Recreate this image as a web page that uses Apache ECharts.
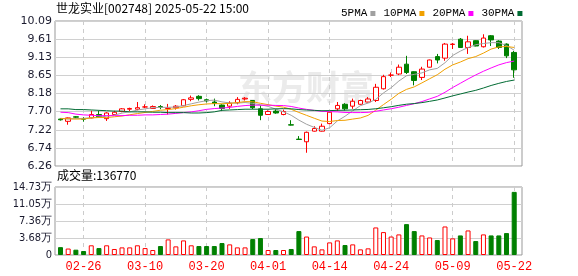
<!DOCTYPE html>
<html><head><meta charset="utf-8">
<script src="https://cdn.jsdelivr.net/npm/echarts@6/dist/echarts.min.js"></script>
<style>html,body{margin:0;padding:0;background:#fff}#c{width:578px;height:276px}</style>
</head><body><div id="c"></div>
<script>
const dates = ['02-21','02-24','02-25','02-26','02-27','02-28','03-03','03-04','03-05','03-06','03-07','03-10','03-11','03-12','03-13','03-14','03-17','03-18','03-19','03-20','03-21','03-24','03-25','03-26','03-27','03-28','03-31','04-01','04-02','04-03','04-07','04-08','04-09','04-10','04-11','04-14','04-15','04-16','04-17','04-18','04-21','04-22','04-23','04-24','04-25','04-28','04-29','04-30','05-06','05-07','05-08','05-09','05-12','05-13','05-14','05-15','05-16','05-19','05-20','05-22'];
const labelDates = ['02-26','03-10','03-20','04-01','04-14','04-24','05-09','05-22'];
const opens  = [7.50,7.44,7.56,7.50,7.53,7.62,7.51,7.62,7.70,7.76,7.76,7.82,7.78,7.83,7.78,7.80,7.85,8.02,8.10,8.01,7.95,7.87,7.84,7.93,8.03,7.99,7.77,7.62,7.71,7.62,7.35,6.97,6.90,7.18,7.18,7.38,7.77,7.89,7.84,7.89,7.95,7.99,8.30,8.66,8.69,8.95,8.75,8.60,8.87,9.15,9.11,9.47,9.61,9.39,9.57,9.41,9.70,9.56,9.48,9.26];
const closes = [7.48,7.53,7.55,7.50,7.62,7.56,7.66,7.68,7.77,7.78,7.80,7.82,7.83,7.81,7.79,7.84,8.01,8.06,8.04,7.98,7.91,7.78,7.92,8.02,8.05,7.80,7.60,7.70,7.66,7.70,7.34,6.96,7.15,7.25,7.31,7.68,7.86,7.77,7.97,7.99,8.03,8.34,8.62,8.66,8.87,8.73,8.52,8.82,9.06,9.06,9.48,9.48,9.39,9.54,9.43,9.64,9.59,9.39,9.17,8.80];
const lows   = [7.46,7.35,7.52,7.43,7.52,7.54,7.45,7.61,7.68,7.71,7.73,7.79,7.77,7.76,7.62,7.75,7.84,7.97,7.99,7.94,7.84,7.71,7.77,7.89,7.99,7.76,7.47,7.61,7.64,7.60,7.33,6.96,6.61,7.17,7.17,7.36,7.71,7.73,7.77,7.88,7.94,7.95,8.28,8.61,8.66,8.69,8.39,8.53,8.86,8.97,9.04,9.35,9.38,9.22,9.42,9.39,9.43,9.35,9.11,8.59];
const highs  = [7.52,7.54,7.58,7.55,7.72,7.72,7.68,7.72,7.79,7.80,7.95,7.89,7.86,7.87,7.90,7.87,8.03,8.12,8.13,8.04,8.04,7.89,7.97,8.08,8.08,8.00,7.86,7.73,7.76,7.75,7.47,7.05,7.17,7.31,7.38,7.69,7.95,7.92,8.04,8.01,8.08,8.43,8.67,8.73,8.94,9.17,8.76,8.88,9.07,9.22,9.51,9.51,9.64,9.70,9.58,9.74,9.72,9.58,9.50,9.30];
const volumes = [17000,14000,11500,8600,21000,15000,21000,13000,16500,16500,21000,15000,10800,19400,33800,18700,31600,21000,19400,19400,19400,25900,23000,16500,16500,34500,36700,10800,10800,10800,13000,51800,40000,18700,12200,27300,31600,21600,23000,12200,14400,59700,49600,40000,44600,66900,51800,42400,38000,32400,61800,36000,42400,53200,30200,44600,42400,42400,47500,136770];
const ma5  = [7.52,7.50,7.51,7.52,7.536,7.552,7.578,7.604,7.658,7.69,7.738,7.77,7.80,7.808,7.81,7.818,7.856,7.902,7.948,7.986,8.00,7.954,7.926,7.922,7.936,7.914,7.878,7.834,7.762,7.692,7.60,7.472,7.362,7.28,7.202,7.27,7.45,7.574,7.718,7.854,7.924,8.02,8.19,8.328,8.504,8.644,8.68,8.72,8.80,8.838,8.988,9.18,9.294,9.39,9.464,9.496,9.518,9.518,9.444,9.318];
const ma10 = [7.51,7.51,7.50,7.50,7.53,7.54,7.54,7.56,7.58,7.613,7.645,7.674,7.702,7.733,7.75,7.778,7.813,7.851,7.878,7.898,7.909,7.905,7.914,7.935,7.961,7.957,7.916,7.88,7.842,7.814,7.757,7.675,7.598,7.521,7.447,7.435,7.461,7.468,7.499,7.528,7.597,7.735,7.882,8.023,8.179,8.284,8.35,8.455,8.564,8.671,8.816,8.93,9.007,9.095,9.151,9.242,9.349,9.406,9.417,9.391];
const ma20 = [7.68,7.67,7.63,7.61,7.60,7.59,7.59,7.59,7.59,7.60,7.60,7.61,7.61,7.62,7.63,7.65,7.67,7.69,7.72,7.756,7.777,7.79,7.808,7.834,7.856,7.868,7.865,7.866,7.86,7.856,7.833,7.79,7.756,7.728,7.704,7.696,7.689,7.674,7.671,7.671,7.677,7.705,7.74,7.772,7.813,7.86,7.906,7.962,8.032,8.10,8.207,8.333,8.445,8.559,8.665,8.763,8.85,8.931,8.991,9.031];
const ma30 = [7.77,7.77,7.75,7.75,7.74,7.73,7.72,7.71,7.71,7.69,7.69,7.69,7.68,7.68,7.67,7.67,7.67,7.66,7.66,7.67,7.69,7.73,7.74,7.75,7.76,7.76,7.76,7.76,7.77,7.775,7.77,7.751,7.738,7.73,7.719,7.723,7.73,7.733,7.74,7.747,7.754,7.772,7.798,7.826,7.862,7.892,7.909,7.934,7.968,8.004,8.057,8.113,8.162,8.213,8.259,8.32,8.387,8.443,8.493,8.53];
const priceTicks = ['6.26','6.74','7.22','7.70','8.18','8.65','9.13','9.61','10.09'];
const volTicks = ['0','3.68万','7.36万','11.05万','14.73万'];
const priceMin = 6.26, priceMax = 10.09, volMax = 147300;
const titleText = '世龙实业[002748] 2025-05-22 15:00';

const UP = '#ff0000', DOWN = '#008000';
const maNames = ['5PMA','10PMA','20PMA','30PMA'];
const maColors = ['#a0a0a0','#f0a000','#ff00ff','#006b33'];
const maData = [ma5, ma10, ma20, ma30];

const candleData = opens.map((o, i) => [o, closes[i], lows[i], highs[i]]);
const volData = volumes.map((v, i) => {
  const o = opens[i], c = closes[i];
  const up = c > o ? true : c < o ? false : (i > 0 ? c >= closes[i - 1] : true);
  return { value: v, itemStyle: up ? { color: '#fff', borderColor: UP, borderWidth: 1 } : { color: DOWN, borderColor: DOWN, borderWidth: 1 } };
});

const isLabel = (idx, val) => labelDates.indexOf(val) >= 0;
const axisFont = "'DejaVu Sans', sans-serif";
const cjkFont = "'Noto Sans CJK SC', sans-serif";

const frameL = 55, frameR = 56, dataL = 60.5, dataR = 63.8;
const mainTop = 21, mainH = 145, volTop = 187, volH = 68;

const chart = echarts.init(document.getElementById('c'), null, { renderer: 'canvas' });
chart.setOption({
  animation: false,
  backgroundColor: '#fff',
  grid: [
    { left: frameL, right: frameR, top: mainTop, height: mainH, show: true, borderColor: '#999', borderWidth: 1, backgroundColor: 'transparent' },
    { left: dataL, right: dataR, top: mainTop, height: mainH },
    { left: frameL, right: frameR, top: volTop, height: volH, show: true, borderColor: '#999', borderWidth: 1, backgroundColor: 'transparent' },
    { left: dataL, right: dataR, top: volTop, height: volH }
  ],
  xAxis: [
    { gridIndex: 0, type: 'category', data: dates, show: false },
    { gridIndex: 1, type: 'category', data: dates, boundaryGap: false,
      axisLine: { show: false }, axisTick: { show: false }, axisLabel: { show: false },
      splitLine: { show: true, interval: isLabel, lineStyle: { color: '#cccccc', type: [4, 4], width: 1 } } },
    { gridIndex: 2, type: 'category', data: dates, show: false },
    { gridIndex: 3, type: 'category', data: dates, boundaryGap: false,
      axisLine: { show: false }, axisTick: { show: false },
      axisLabel: { show: true, interval: isLabel, color: '#ff0000', fontSize: 12, fontFamily: "'Liberation Mono', monospace", margin: 6 },
      splitLine: { show: true, interval: isLabel, lineStyle: { color: '#cccccc', type: [4, 4], width: 1 } } }
  ],
  yAxis: [
    { gridIndex: 0, type: 'value', min: 0, max: 8, interval: 1,
      axisLine: { show: false }, axisTick: { show: false },
      axisLabel: { formatter: v => priceTicks[Math.round(v)], color: '#1a1a2e', fontSize: 11, fontFamily: axisFont, margin: 3 },
      splitLine: { show: true, lineStyle: { color: '#d0d0d0', width: 1 } } },
    { gridIndex: 1, type: 'value', min: priceMin, max: priceMax, show: false, splitLine: { show: false } },
    { gridIndex: 2, type: 'value', min: 0, max: 4, interval: 1,
      axisLine: { show: false }, axisTick: { show: false },
      axisLabel: { formatter: v => volTicks[Math.round(v)], color: '#1a1a2e', fontSize: 11, fontFamily: "'Liberation Sans Narrow','DejaVu Sans Condensed','Liberation Sans', sans-serif", margin: 3 },
      splitLine: { show: true, lineStyle: { color: '#d0d0d0', width: 1 } } },
    { gridIndex: 3, type: 'value', min: 0, max: volMax, show: false, splitLine: { show: false } }
  ],
  legend: {
    data: maNames, left: 336, top: 3, align: 'right', icon: 'rect', itemWidth: 5, itemHeight: 5, itemGap: 8,
    selectedMode: false,
    textStyle: { fontFamily: "'Liberation Mono', monospace", fontSize: 11, color: '#000', padding: [0, -2, 0, 0] }
  },
  graphic: [
    { type: 'text', z: -10, silent: true, left: 238, top: 70,
      style: { text: '东方财富', font: "bold 34px 'Noto Sans CJK SC'", fill: '#ebebeb' } },
    { type: 'text', left: 56, top: 2,
      style: { text: titleText, font: "12px 'Noto Sans CJK SC'", fill: '#000' } },
    { type: 'text', left: 57, top: 169,
      style: { text: '成交量:' + volumes[volumes.length - 1], font: "12px 'Noto Sans CJK SC'", fill: '#000' } }
  ],
  series: [
    { type: 'candlestick', name: 'K', xAxisIndex: 1, yAxisIndex: 1, data: candleData, barWidth: 5, clip: false,
      itemStyle: { color: '#fff', color0: DOWN, borderColor: UP, borderColor0: DOWN, borderWidth: 1 } },
    ...maData.map((d, k) => ({
      type: 'line', name: maNames[k], xAxisIndex: 1, yAxisIndex: 1, data: d, showSymbol: false, symbol: 'none',
      color: maColors[k], itemStyle: { color: maColors[k] }, lineStyle: { color: maColors[k], width: 1 }, silent: true, z: 3
    })),
    { type: 'bar', name: 'VOL', xAxisIndex: 3, yAxisIndex: 3, data: volData, barWidth: 5, clip: false }
  ]
});
</script>
</body></html>
